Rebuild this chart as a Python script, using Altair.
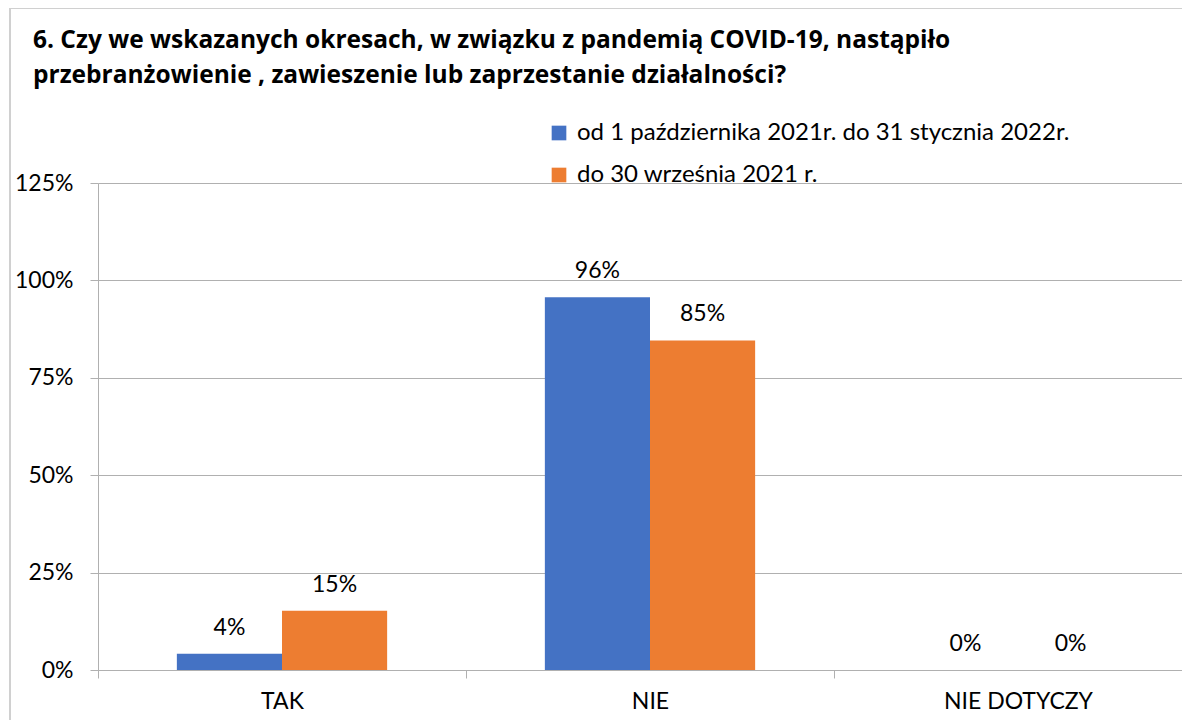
import altair as alt
import pandas as pd

categories = ["TAK", "NIE", "NIE DOTYCZY"]
series = ["od 1 października 2021r. do 31 stycznia 2022r.", "do 30 września 2021 r."]
values_s1 = [0.042, 0.957, 0.0]
values_s2 = [0.152, 0.846, 0.0]
y_ticks = [0, 0.25, 0.5, 0.75, 1.0, 1.25]
colors = ["#4472C4", "#ED7D31"]

rows = []
for i, c in enumerate(categories):
    rows.append({"kat": c, "seria": series[0], "ord": 0, "v": values_s1[i]})
    rows.append({"kat": c, "seria": series[1], "ord": 1, "v": values_s2[i]})
df = pd.DataFrame(rows)

FONT = "Lato"
FS = 23
W, H = 1104, 487

x_enc = alt.X("kat:N", sort=categories, title=None,
              scale=alt.Scale(paddingInner=0, paddingOuter=0),
              axis=alt.Axis(labelAngle=0, tickBand="extent", tickSize=8,
                            labelPadding=12, labelFontSize=FS, labelColor="#000000",
                            labelFont=FONT, domainColor="#b0b0b0", tickColor="#b0b0b0",
                            grid=False))
y_enc = alt.Y("v:Q", title=None,
              scale=alt.Scale(domain=[0, 1.25], nice=False),
              axis=alt.Axis(values=y_ticks, format=".0%", tickSize=8, labelPadding=17,
                            labelFontSize=FS, labelColor="#000000", labelFont=FONT,
                            domainColor="#b0b0b0", tickColor="#b0b0b0",
                            gridColor="#b0b0b0", gridWidth=1))
off_enc = alt.XOffset("seria:N", sort=series,
                      scale=alt.Scale(paddingInner=0, paddingOuter=0.75))

base = alt.Chart(df)

frame = base.mark_rect(fill=None, stroke="#d0d0d0", strokeWidth=1.5, clip=False).encode(
    x=alt.value(-88), x2=alt.value(W + 200), y=alt.value(-175), y2=alt.value(H + 200)
)

bars = base.mark_bar().encode(
    x=x_enc,
    xOffset=off_enc,
    y=y_enc,
    color=alt.Color("seria:N", sort=series,
                    scale=alt.Scale(domain=series, range=colors),
                    legend=alt.Legend(title=None, orient="none", legendX=449, legendY=-62,
                                      symbolType="square", symbolSize=215,
                                      symbolStrokeWidth=0, labelFontSize=24,
                                      labelFont=FONT, labelColor="#000000",
                                      labelLimit=0, rowPadding=18, labelOffset=6)),
)

labels = base.mark_text(fontSize=FS, font=FONT, color="#000000", baseline="alphabetic",
                        dy=-19).encode(
    x=alt.X("kat:N", sort=categories),
    xOffset=alt.XOffset("seria:N", sort=series),
    y="v:Q",
    text=alt.Text("v:Q", format=".0%"),
)

chart = alt.layer(frame, bars, labels).properties(
    width=W, height=H,
    title=alt.Title(
        ["6. Czy we wskazanych okresach, w związku z pandemią COVID-19, nastąpiło",
         "przebranżowienie , zawieszenie lub zaprzestanie działalności?"],
        anchor="start", frame="group", dx=-65, dy=81, offset=0, fontSize=24.5,
        font="Open Sans", fontWeight="bold", color="#000000", lineHeight=35,
    ),
    autosize=alt.AutoSizeParams(type="none"),
    padding={"left": 90, "top": 175, "right": -20, "bottom": 50},
).configure_view(stroke=None)

chart.save("out.html", embed_options={"renderer": "svg", "actions": False})
